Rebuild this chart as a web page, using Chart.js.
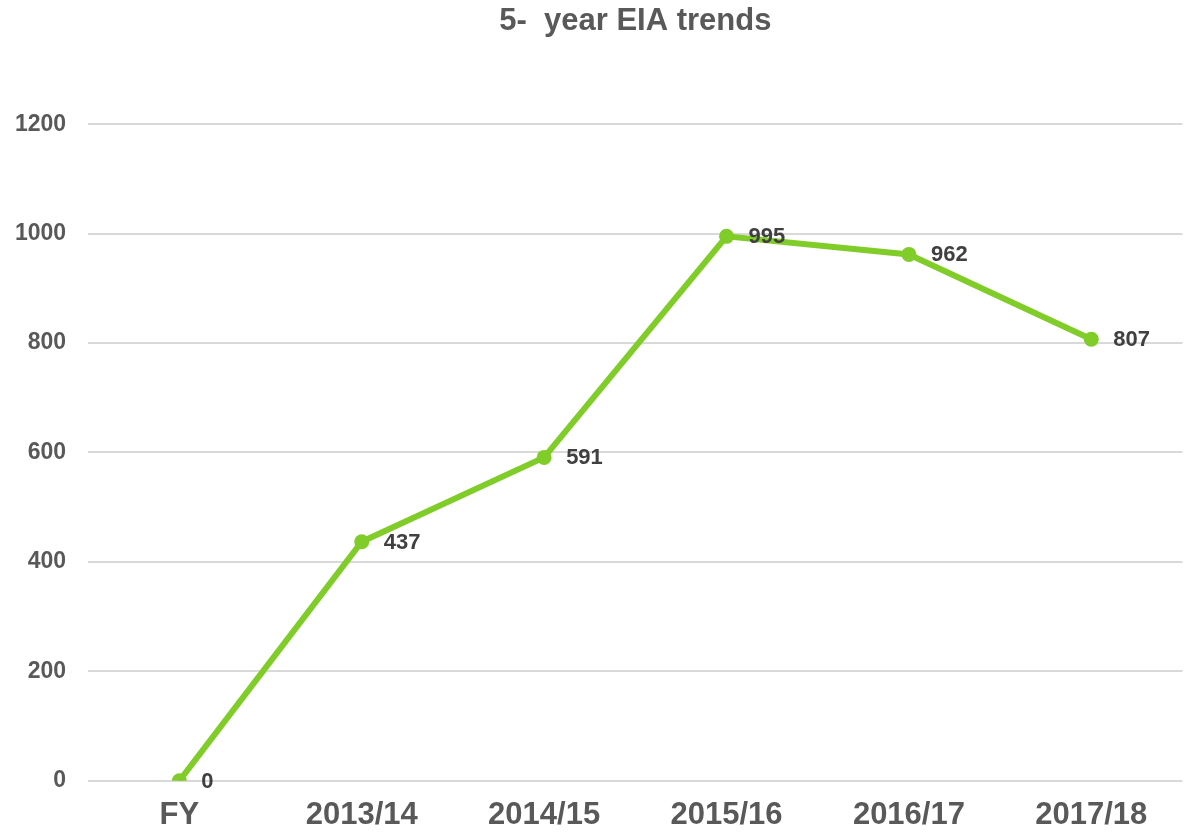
<!DOCTYPE html>
<html>
<head>
<meta charset="utf-8">
<script src="https://cdn.jsdelivr.net/npm/chart.js@4/dist/chart.umd.min.js"></script>
<style>
  html, body { margin: 0; padding: 0; background: #fff; }
</style>
</head>
<body>
<canvas id="eiaChart" width="1190" height="832"></canvas>
<script>
// chart data
const years = ['FY', '2013/14', '2014/15', '2015/16', '2016/17', '2017/18'];
const eiaCounts = [0, 437, 591, 995, 962, 807];
const yTicks = [0, 200, 400, 600, 800, 1000, 1200];

const lineGreen = '#80CC28';
const fontFamily = '"Liberation Sans", Arial, sans-serif';

// value labels to the right of each point
const pointLabels = {
    id: 'pointLabels',
    afterDatasetsDraw(chart) {
        const ctx = chart.ctx;
        const meta = chart.getDatasetMeta(0);
        ctx.save();
        ctx.font = 'bold 22px ' + fontFamily;
        ctx.fillStyle = '#404040';
        ctx.textAlign = 'left';
        ctx.textBaseline = 'middle';
        meta.data.forEach((pt, i) => {
            ctx.fillText(String(eiaCounts[i]), pt.x + 22, pt.y + 1);
        });
        ctx.restore();
    }
};

new Chart(document.getElementById('eiaChart'), {
    type: 'line',
    data: {
        labels: years,
        datasets: [{
            data: eiaCounts,
            borderColor: lineGreen,
            backgroundColor: lineGreen,
            borderWidth: 6,
            pointRadius: 7.5,
            pointBackgroundColor: lineGreen,
            pointBorderWidth: 0,
            tension: 0
        }]
    },
    options: {
        responsive: false,
        animation: false,
        layout: { padding: { left: -7, right: 2, top: 0, bottom: -18 } },
        plugins: {
            legend: { display: false },
            tooltip: { enabled: false },
            title: {
                display: true,
                text: '5-  year EIA trends',
                fullSize: false,
                color: '#595959',
                font: { family: fontFamily, size: 31, weight: 'bold' },
                padding: { top: 3, bottom: 84 }
            }
        },
        scales: {
            x: {
                offset: true,
                grid: { display: false, drawTicks: false },
                border: { display: false },
                afterFit: scale => { scale.paddingRight = 0; },
                ticks: {
                    padding: 16,
                    color: '#595959',
                    font: { family: fontFamily, size: 31, weight: 'bold' }
                }
            },
            y: {
                min: 0,
                max: 1200,
                afterBuildTicks: axis => { axis.ticks = yTicks.map(v => ({ value: v })); },
                grid: { color: '#d9d9d9', lineWidth: 2, drawTicks: false },
                border: { display: false },
                ticks: {
                    padding: 22,
                    color: '#595959',
                    font: { family: fontFamily, size: 23, weight: 'bold' },
                    callback: v => String(v)
                }
            }
        }
    },
    plugins: [pointLabels]
});
</script>
</body>
</html>
